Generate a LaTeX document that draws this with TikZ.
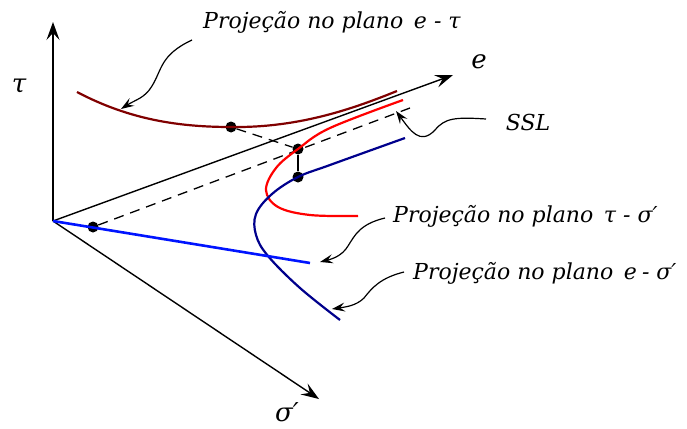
\documentclass[tikz,border=0pt]{standalone}
\usepackage{fontspec}
\setmainfont{DejaVu Serif}
\usetikzlibrary{arrows.meta}
\definecolor{brownc}{RGB}{128,0,0}
\definecolor{navyc}{RGB}{0,0,140}
\definecolor{bluec}{RGB}{0,20,255}
\definecolor{redc}{RGB}{255,0,0}
\tikzset{
  axis/.style={line width=1.4pt,-{Stealth[length=18pt,width=13pt,inset=7pt]}},
  curve/.style={line width=2.2pt},
  note/.style={line width=1.2pt,-{Stealth[length=13pt,width=9pt,inset=5pt]}},
  lbl/.style={font=\itshape\fontsize{22}{26}\selectfont,inner sep=0pt},
  big/.style={font=\itshape\fontsize{26}{30}\selectfont,inner sep=0pt},
  dotc/.style={circle,fill=black,inner sep=0pt,minimum size=11pt}
}
\begin{document}
\begin{tikzpicture}[x=1pt,y=-1pt]
\useasboundingbox (0,0) rectangle (687,428);
% axes
\coordinate (O) at (53,221);
\coordinate (T) at (53,22);
\coordinate (E) at (453,75);
\coordinate (S) at (319,399);
\draw[axis] (O) -- (T);
\draw[axis] (O) -- (E);
\draw[axis] (O) -- (S);
\node[big] (tau) at (19,86) {τ};
\node[big] (elab) at (479,62) {e};
\node[big] (sig) at (287,412) {σ′};
% dots
\node[dotc] (d1) at (231,127) {};
\node[dotc] (d2) at (298,149) {};
\node[dotc] (d3) at (298,177) {};
\node[dotc] (d4) at (93,227) {};
\coordinate (ssl) at (410,108);
% dashed lines
\draw[line width=1.3pt,dash pattern=on 10pt off 7pt] (d1) -- (d2);
\draw[line width=1.3pt,dash pattern=on 10pt off 7pt] (d4) -- (ssl);
\draw[line width=1.4pt] (d2) -- (d3);
% brown curve
\draw[curve,brownc] (77,92) .. controls (130,120) and (180,127) .. (d1.center) .. controls (300,128) and (355,108) .. (397,91);
% red curve
\draw[curve,redc] plot[smooth,tension=0.6] coordinates {(403,100) (330,128) (298,149) (276,168) (266,190) (278,207) (310,215) (358,216)};
% navy curve
\draw[curve,navyc] plot[smooth,tension=0.6] coordinates {(405,138) (330,165) (298,177) (272,194) (256,214) (256,235) (268,256) (300,288) (340,320)};
% blue line
\draw[curve,bluec,line width=2.6pt] (O) -- (310,263);
% labels
\node[lbl,anchor=west] (l1) at (203,22) {Projeção no plano \,e - τ};
\node[lbl] (l2) at (528,122) {SSL};
\node[lbl,anchor=west] (l3) at (393,216) {Projeção no plano \,τ - σ′};
\node[lbl,anchor=west] (l4) at (413,273) {Projeção no plano \,e\hspace{5pt}-\hspace{7pt}σ′};
% annotation arrows
\coordinate (a1s) at (192,40); \coordinate (a1e) at (121,109);
\draw[note] (a1s) .. controls (160,55) and (162,70) .. (152,86) .. controls (145,98) and (135,100) .. (a1e);
\coordinate (a2s) at (486,119); \coordinate (a2e) at (396,111);
\draw[note] (a2s) .. controls (455,117) and (445,118) .. (435,130) .. controls (420,146) and (410,130) .. (a2e);
\coordinate (a3s) at (385,218); \coordinate (a3e) at (320,262);
\draw[note] (a3s) .. controls (360,224) and (355,235) .. (348,246) .. controls (342,256) and (332,259) .. (a3e);
\coordinate (a4s) at (404,272); \coordinate (a4e) at (332,309);
\draw[note] (a4s) .. controls (380,278) and (372,288) .. (364,298) .. controls (356,306) and (345,307) .. (a4e);
\end{tikzpicture}
\end{document}
